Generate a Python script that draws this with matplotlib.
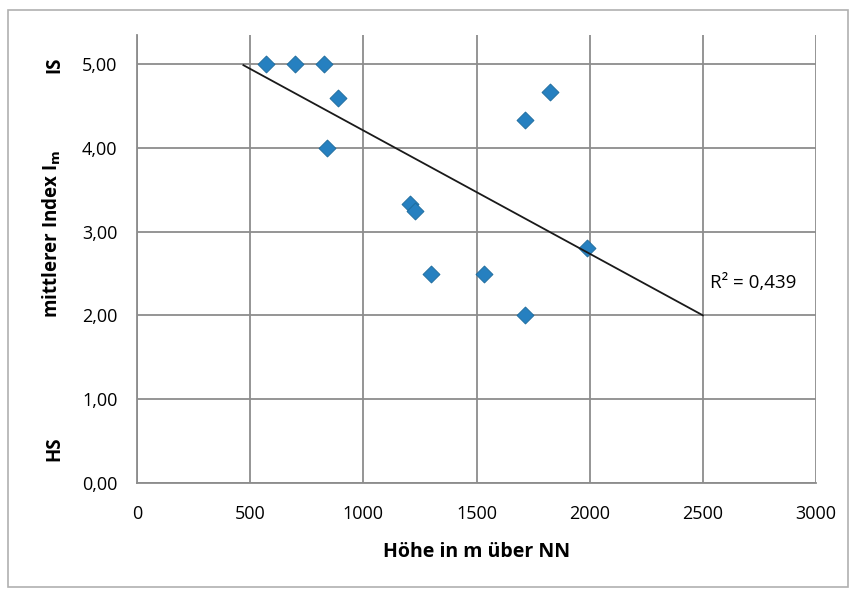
import numpy as np
import matplotlib.pyplot as plt
from matplotlib.patches import Rectangle

# data
hoehe = [568, 696, 828, 890, 841, 1207, 1229, 1300, 1532, 1712, 1712, 1825, 1987]
index_m = [5.0, 5.0, 5.0, 4.6, 4.0, 3.33, 3.25, 2.5, 2.5, 2.0, 4.33, 4.67, 2.8]
# linear trend line as drawn in the chart
trend_x = [470, 2500]
trend_y = [4.99, 2.0]
r2_label = "R² = 0,439"

plt.rcParams['font.family'] = ['Open Sans', 'DejaVu Sans']

fig = plt.figure(figsize=(8.59, 5.89), dpi=100)
ax = fig.add_axes([0.1595, 0.1805, 0.7905, 0.760])

ax.scatter(hoehe, index_m, marker='D', s=75, color='#2680c0', edgecolor='#1d6a9a',
           linewidth=0.6, zorder=3)
ax.plot(trend_x, trend_y, color='#1a1a1a', linewidth=1.3, zorder=4)
ax.text(2532, 2.39, r2_label, fontsize=13.5, ha='left', va='center')

ax.set_xlim(0, 3000)
ax.set_ylim(0, 5.35)
ax.set_xticks(range(0, 3001, 500))
ax.set_yticks([0, 1, 2, 3, 4, 5])
ax.set_yticklabels([f"{v:.2f}".replace('.', ',') for v in [0, 1, 2, 3, 4, 5]])
ax.tick_params(axis='y', length=0, labelsize=13, pad=14)
ax.tick_params(axis='x', length=0, labelsize=13, pad=16)
ax.grid(True, color='#8c8c8c', linewidth=1.3)
ax.set_axisbelow(True)
for s in ['top', 'right']:
    ax.spines[s].set_visible(False)
for s in ['left', 'bottom']:
    ax.spines[s].set_color('#8c8c8c')
    ax.spines[s].set_linewidth(1.3)

ax.set_xlabel("Höhe in m über NN", fontsize=14, fontweight='bold', va='center')
ax.xaxis.set_label_coords(0.5, -0.155)
ax.set_ylabel(r"mittlerer Index I$_\mathbf{m}$", fontsize=13.5, fontweight='bold', va='center')
ax.yaxis.set_label_coords(-0.125, 0.555)
ax.text(-0.122, 5.0, "IS", transform=ax.get_yaxis_transform(), rotation=90,
        fontsize=13.5, fontweight='bold', ha='center', va='center')
ax.text(-0.122, 0.41, "HS", transform=ax.get_yaxis_transform(), rotation=90,
        fontsize=13.5, fontweight='bold', ha='center', va='center')

# outer chart frame
fig.patches.append(Rectangle((0.0093, 0.0034), 0.978, 0.98, transform=fig.transFigure,
                             fill=False, edgecolor='#b0b0b0', linewidth=1.2))

fig.savefig("out.png", dpi=100)
